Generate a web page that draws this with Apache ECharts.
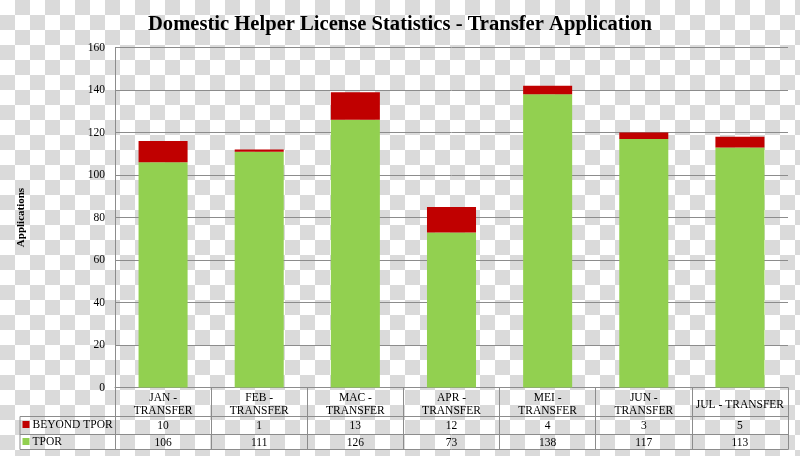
<!DOCTYPE html>
<html>
<head>
<meta charset="utf-8">
<script src="https://cdn.jsdelivr.net/npm/echarts@6/dist/echarts.min.js"></script>
<style>
html,body{margin:0;padding:0;}
body{width:800px;height:456px;background:repeating-conic-gradient(#dadada 0 25%, #ffffff 0 50%) 0 0 / 30px 30px;}
#c{width:800px;height:456px;}
</style>
</head>
<body>
<div id="c"></div>
<script>
var categories = ['JAN -\nTRANSFER','FEB -\nTRANSFER','MAC -\nTRANSFER','APR -\nTRANSFER','MEI -\nTRANSFER','JUN -\nTRANSFER','JUL - TRANSFER'];
var seriesNames = ['BEYOND TPOR', 'TPOR'];
var beyondTpor = [10, 1, 13, 12, 4, 3, 5];
var tpor = [106, 111, 126, 73, 138, 117, 113];
var yTicks = {min: 0, max: 160, interval: 20};

var serif = '"Liberation Serif","Times New Roman",serif';
var lineC = '#8c8c8c';
var gridLeft = 115, gridRight = 12, gridTop = 47.5, gridBottom = 68.5;
var plotBottom = 456 - gridBottom;
var rowLines = [29, 47, 62];

var chart = echarts.init(document.getElementById('c'), null, {renderer: 'canvas'});

var graphics = [];
rowLines.forEach(function (off) {
  graphics.push({type: 'line', shape: {x1: 20, y1: plotBottom + off, x2: gridLeft, y2: plotBottom + off}, style: {stroke: lineC, lineWidth: 1}});
});
graphics.push({type: 'line', shape: {x1: 20, y1: plotBottom + rowLines[0], x2: 20, y2: plotBottom + rowLines[2]}, style: {stroke: lineC, lineWidth: 1}});

function legendFor(name, top) {
  return {
    data: [name], left: 22.5, top: top, padding: 0,
    itemWidth: 7, itemHeight: 7, icon: 'rect',
    textStyle: {fontFamily: serif, fontSize: 11.5, color: '#000', padding: [0, 0, 0, -2]}
  };
}

chart.setOption({
  backgroundColor: 'transparent',
  animation: false,
  title: {
    text: 'Domestic Helper License Statistics - Transfer Application',
    left: 'center', top: 9,
    textStyle: {fontFamily: serif, fontWeight: 'bold', fontSize: 20.6, color: '#000'}
  },
  legend: [
    legendFor(seriesNames[0], plotBottom + rowLines[0] + 2),
    legendFor(seriesNames[1], plotBottom + rowLines[1] + 1)
  ],
  grid: {left: gridLeft, right: gridRight, top: gridTop, bottom: gridBottom, containLabel: false},
  xAxis: [
    {
      type: 'category', data: categories, position: 'bottom',
      axisLine: {show: true, lineStyle: {color: lineC}},
      axisTick: {show: true, length: 62, lineStyle: {color: lineC}},
      axisLabel: {interval: 0, fontFamily: serif, fontSize: 11.5, color: '#000', lineHeight: 13, verticalAlign: 'middle', margin: 17}
    },
    {
      type: 'category', data: beyondTpor, position: 'bottom', offset: rowLines[0],
      axisLine: {show: true, lineStyle: {color: lineC}}, axisTick: {show: false},
      axisLabel: {interval: 0, fontFamily: serif, fontSize: 11.5, color: '#000', verticalAlign: 'middle', margin: 9.5}
    },
    {
      type: 'category', data: tpor, position: 'bottom', offset: rowLines[1],
      axisLine: {show: true, lineStyle: {color: lineC}}, axisTick: {show: false},
      axisLabel: {interval: 0, fontFamily: serif, fontSize: 11.5, color: '#000', verticalAlign: 'middle', margin: 8.5}
    },
    {
      type: 'category', data: categories, position: 'bottom', offset: rowLines[2],
      axisLine: {show: true, lineStyle: {color: lineC}}, axisTick: {show: false},
      axisLabel: {show: false}
    }
  ],
  yAxis: {
    type: 'value', min: yTicks.min, max: yTicks.max, interval: yTicks.interval,
    name: 'Applications', nameLocation: 'middle', nameGap: 88, nameRotate: 90,
    nameTextStyle: {fontFamily: serif, fontWeight: 'bold', fontSize: 11, color: '#000'},
    axisLine: {show: true, lineStyle: {color: lineC}},
    axisTick: {show: false},
    splitLine: {show: true, lineStyle: {color: lineC}},
    axisLabel: {fontFamily: serif, fontSize: 11.5, color: '#000', margin: 10}
  },
  series: [
    {name: seriesNames[1], type: 'bar', stack: 'a', data: tpor, barWidth: '51%', itemStyle: {color: '#92D050'}},
    {name: seriesNames[0], type: 'bar', stack: 'a', data: beyondTpor, barWidth: '51%', itemStyle: {color: '#C00000'}}
  ],
  graphic: graphics
});
</script>
</body>
</html>
